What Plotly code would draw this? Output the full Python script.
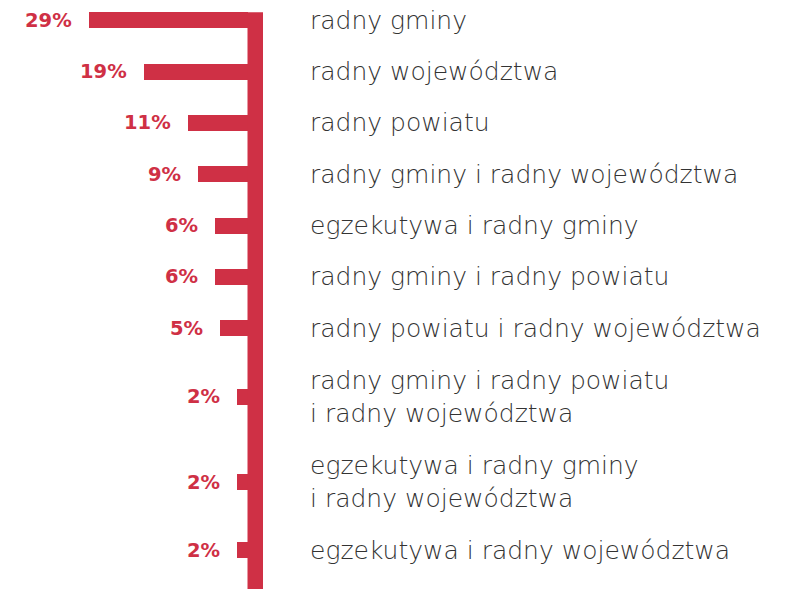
import plotly.graph_objects as go

categories = [
    "radny gminy",
    "radny województwa",
    "radny powiatu",
    "radny gminy i radny województwa",
    "egzekutywa i radny gminy",
    "radny gminy i radny powiatu",
    "radny powiatu i radny województwa",
    "radny gminy i radny powiatu<br>i radny województwa",
    "egzekutywa i radny gminy<br>i radny województwa",
    "egzekutywa i radny województwa",
]
values = [29, 19, 11, 9, 6, 6, 5, 2, 2, 2]
value_labels = ["29%", "19%", "11%", "9%", "6%", "6%", "5%", "2%", "2%", "2%"]

RED = "#CF3045"
GRAY = "#333333"
W, H = 785, 589
OFF = 8  # page body margin around the plot

# layout in page-pixel-like units
PX_PER_PCT = 5.455
X0 = 247.5
ROW_1 = 51.3
ROW_2 = 85.5
FIRST_CENTER = 20.3

# compute row centers from the number of text lines
heights = [ROW_1 if c.count("<br>") == 0 else ROW_2 for c in categories]
centers = []
y = FIRST_CENTER - heights[0] / 2
for h in heights:
    centers.append(y + h / 2)
    y += h

fig = go.Figure()
fig.add_trace(go.Bar(
    x=[-v for v in values],
    y=centers,
    orientation="h",
    width=16,
    marker=dict(color=RED, line=dict(width=0)),
    hoverinfo="skip",
    showlegend=False,
))

# vertical axis bar
fig.add_shape(type="rect", xref="x", yref="y",
              x0=0, x1=15.5 / PX_PER_PCT, y0=FIRST_CENTER - 8, y1=H + 20,
              fillcolor=RED, line=dict(width=0), layer="above")

for v, lab, c in zip(values, value_labels, centers):
    fig.add_annotation(x=-v, y=c, text=lab, xref="x", yref="y",
                       xanchor="right", yanchor="middle", xshift=-15, showarrow=False,
                       font=dict(family="DejaVu Sans", size=19.5, color=RED, weight=700))

for cat, c in zip(categories, centers):
    fig.add_annotation(x=(308 - X0) / PX_PER_PCT, y=c, text=cat, xref="x", yref="y",
                       xanchor="left", yanchor="middle", align="left", showarrow=False,
                       font=dict(family="DejaVu Sans", size=25, color=GRAY, weight=200))

fig.update_layout(
    width=W, height=H,
    margin=dict(l=0, r=0, t=0, b=0),
    paper_bgcolor="white", plot_bgcolor="white",
    xaxis=dict(range=[(OFF - X0) / PX_PER_PCT, (OFF + W - X0) / PX_PER_PCT],
               visible=False, fixedrange=True),
    yaxis=dict(range=[OFF + H, OFF], visible=False, fixedrange=True),
    bargap=0,
)

fig.write_html("out.html")
